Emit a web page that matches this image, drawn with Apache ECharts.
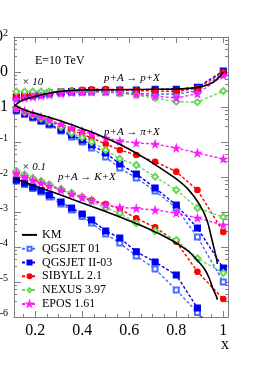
<!DOCTYPE html>
<html><head><meta charset="utf-8">
<script src="https://cdn.jsdelivr.net/npm/echarts@6/dist/echarts.min.js"></script>
<style>html,body{margin:0;padding:0;background:#fff}#c{width:258px;height:366px}</style>
</head><body><div id="c"></div>
<script>
// marker positions (x_F) shared by the model calculations
const modelX = [0.12, 0.155, 0.19, 0.225, 0.26, 0.31, 0.355, 0.40, 0.44, 0.50, 0.56, 0.63, 0.71, 0.80, 0.89, 1.0];

// p+A -> p+X  (x10)
const kmProtonX = [0.11, 0.13, 0.15, 0.18, 0.2, 0.25, 0.3, 0.35, 0.4, 0.5, 0.6, 0.7, 0.8, 0.85, 0.9, 0.93, 0.95, 0.97, 0.99, 1.0];
const kmProtonY = [1.05, 1.35, 1.6, 1.85, 2.0, 2.4, 2.75, 2.95, 3.05, 3.1, 3.15, 3.2, 3.25, 3.4, 3.7, 4.2, 4.8, 6.0, 8.0, 10.0];
const qgs01Proton  = [1.8, 1.93, 2.06, 2.2, 2.35, 2.5, 2.6, 2.65, 2.68, 2.68, 2.6, 2.46, 2.35, 2.35, 2.9, 9.0];
const qgs2Proton   = [1.93, 2.06, 2.2, 2.35, 2.51, 2.68, 2.77, 2.86, 2.96, 3.0, 3.06, 3.06, 3.2, 3.2, 3.66, 10.7];
const sibProton    = [2.0, 2.15, 2.3, 2.45, 2.6, 2.8, 2.95, 3.1, 3.2, 3.25, 3.1, 2.95, 2.85, 2.8, 3.4, 10.0];
const nexProton    = [2.75, 2.75, 2.75, 2.75, 2.75, 2.75, 2.75, 2.73, 2.7, 2.65, 2.46, 2.2, 1.8, 1.42, 1.38, 2.85];
const eposProton   = [1.65, 1.8, 1.95, 2.1, 2.25, 2.45, 2.6, 2.7, 2.73, 2.73, 2.6, 2.3, 2.05, 1.8, 2.4, 8.0];

// p+A -> pi+X
const kmPionX = [0.11, 0.15, 0.2, 0.25, 0.3, 0.35, 0.4, 0.45, 0.5, 0.55, 0.6, 0.65, 0.7, 0.75, 0.8, 0.85, 0.9, 0.93, 0.95, 0.97, 0.975];
const kmPionY = [1.15, 0.85, 0.66, 0.53, 0.42, 0.32, 0.24, 0.18, 0.13, 0.092, 0.062, 0.04, 0.025, 0.015, 0.0088, 0.0045, 0.0016, 6e-4, 1.8e-4, 5e-5, 3.3e-5];
const qgs01Pion = [0.769, 0.61, 0.485, 0.385, 0.306, 0.206, 0.139, 0.1, 0.0674, 0.0373, 0.0181, 0.00937, 0.00398, 0.0013, 1.93e-4, 1e-5];
const qgs2Pion  = [0.821, 0.652, 0.518, 0.411, 0.327, 0.22, 0.158, 0.114, 0.082, 0.0485, 0.0235, 0.0122, 0.00485, 0.00158, 3.49e-4, 2.5e-5];
const sibPion   = [0.877, 0.72, 0.59, 0.485, 0.398, 0.287, 0.22, 0.169, 0.13, 0.0877, 0.059, 0.0425, 0.0274, 0.0142, 0.00425, 2.68e-4];
const nexPion   = [0.936, 0.72, 0.59, 0.469, 0.373, 0.268, 0.181, 0.135, 0.1, 0.059, 0.033, 0.022, 0.0102, 0.00425, 0.0013, 7.2e-4];
const eposPion  = [0.936, 0.769, 0.631, 0.518, 0.425, 0.327, 0.251, 0.206, 0.169, 0.13, 0.107, 0.0937, 0.0877, 0.0674, 0.0485, 0.0327];

// p+A -> K+X  (x0.1)
const kmKaonX = [0.11, 0.2, 0.3, 0.4, 0.5, 0.55, 0.6, 0.65, 0.7, 0.75, 0.8, 0.85, 0.88, 0.9, 0.92, 0.94, 0.955, 0.97, 0.975];
const kmKaonY = [0.0092, 0.0055, 0.0032, 0.0018, 0.00103, 7.7e-4, 5.6e-4, 4.1e-4, 2.9e-4, 2.0e-4, 1.3e-4, 7.7e-5, 4.9e-5, 3.5e-5, 2.35e-5, 1.3e-5, 6.7e-6, 4.0e-6, 3.1e-6];
const qgs01Kaon = [0.00769, 0.0061, 0.00469, 0.00373, 0.00268, 0.00169, 0.00114, 7.44e-4, 4.85e-4, 2.35e-4, 1.3e-4, 5.53e-5, 2.35e-5, 5.9e-6, 1.35e-6, 3e-8];
const qgs2Kaon  = [0.0082, 0.00674, 0.00518, 0.00411, 0.00306, 0.00193, 0.0013, 8.77e-4, 5.9e-4, 2.86e-4, 1.81e-4, 7.34e-5, 3.73e-5, 1.58e-5, 1.81e-6, 5e-8];
const sibKaon   = [0.013, 0.01069, 0.00877, 0.0072, 0.0059, 0.0044, 0.00338, 0.00268, 0.0022, 0.00169, 0.00122, 6.61e-4, 3.66e-4, 1.42e-4, 1.97e-5, 3.27e-6];
const nexKaon   = [0.01484, 0.01179, 0.00937, 0.00769, 0.0061, 0.00454, 0.00349, 0.00268, 0.00206, 0.0013, 9.18e-4, 4.75e-4, 2.86e-4, 1.58e-4, 4.75e-5, 1.81e-5];
const eposKaon  = [0.013, 0.01033, 0.0082, 0.00674, 0.00553, 0.00425, 0.00327, 0.0026, 0.00213, 0.00158, 0.00135, 0.00127, 0.00114, 9.37e-4, 6.74e-4, 4.25e-4];

const legendNames = ['KM', 'QGSJET 01', 'QGSJET II-03', 'SIBYLL 2.1', 'NEXUS 3.97', 'EPOS 1.61'];
const xTickLabels = ['0.2', '0.4', '0.6', '0.8', '1'];

const SERIF = 'Liberation Serif';
const STAR = 'path://M50,0 L61,35 L98,35 L68,57 L79,91 L50,70 L21,91 L32,57 L2,35 L39,35 Z';
const NOMARK = 'path://M0,0 L1,1';

const models = [
  {name: 'QGSJET 01', color: '#4a6cff', symbol: 'emptyRect', size: 5, sets: [qgs01Proton, qgs01Pion, qgs01Kaon]},
  {name: 'QGSJET II-03', color: '#0000f0', symbol: 'rect', size: 6, sets: [qgs2Proton, qgs2Pion, qgs2Kaon]},
  {name: 'SIBYLL 2.1', color: '#ff0000', symbol: 'circle', size: 5.5, sets: [sibProton, sibPion, sibKaon]},
  {name: 'NEXUS 3.97', color: '#66d855', symbol: 'emptyDiamond', size: 6, sets: [nexProton, nexPion, nexKaon]},
  {name: 'EPOS 1.61', color: '#ff1cff', symbol: STAR, size: 7, sets: [eposProton, eposPion, eposKaon]}
];

const series = [];
[[kmProtonX, kmProtonY], [kmPionX, kmPionY], [kmKaonX, kmKaonY]].forEach(([xa, ya]) => {
  series.push({
    type: 'line', name: 'KM', data: xa.map((x, i) => [x, ya[i]]),
    showSymbol: false, symbol: NOMARK, smooth: 0.4, z: 5,
    lineStyle: {color: '#000', width: 1.6}, itemStyle: {color: '#000'}
  });
});
models.forEach(m => {
  m.sets.forEach(ya => {
    series.push({
      type: 'line', name: m.name, data: modelX.map((x, i) => [x, ya[i]]),
      symbol: m.symbol, symbolSize: m.size, showAllSymbol: true, z: 3,
      lineStyle: {color: m.color, width: 1.4, type: [3, 2]},
      itemStyle: {color: m.color, borderColor: m.color, borderWidth: 1.1}
    });
  });
});

const axisColor = '#808080';
function xFmt(v) {
  const r = Math.round(v * 5) / 5;
  if (Math.abs(v - r) > 1e-6) return '';
  const idx = Math.round(r * 5) - 1;
  return xTickLabels[idx] !== undefined ? xTickLabels[idx] : '';
}
function yFmt(v) {
  const e = Math.round(Math.log10(v));
  if (e === 0) return '{b|1}';
  if (e === 1) return '{b|10}';
  return '{b|10}{s|' + e + '}';
}

const chart = echarts.init(document.getElementById('c'), null, {renderer: 'canvas'});
chart.setOption({
  animation: false,
  backgroundColor: '#fff',
  grid: {left: 14, right: 30, top: 37, bottom: 49, containLabel: false, outerBoundsMode: 'none'},
  xAxis: [{
    type: 'value', min: 0.11, max: 1.02, splitNumber: 5,
    axisLine: {lineStyle: {color: axisColor, width: 1}},
    axisTick: {inside: true, length: 6, lineStyle: {color: axisColor}},
    minorTick: {show: true, splitNumber: 4, length: 3, lineStyle: {color: axisColor}},
    splitLine: {show: false},
    axisLabel: {formatter: xFmt, fontFamily: SERIF, fontSize: 16, color: '#000', margin: 6, showMinLabel: false, showMaxLabel: false}
  }, {
    type: 'value', position: 'top', min: 0.11, max: 1.02, splitNumber: 5,
    axisLine: {lineStyle: {color: axisColor, width: 1}},
    axisTick: {inside: true, length: 6, lineStyle: {color: axisColor}},
    minorTick: {show: true, splitNumber: 4, length: 3, lineStyle: {color: axisColor}},
    splitLine: {show: false}, axisLabel: {show: false}
  }],
  yAxis: [{
    type: 'log', logBase: 10, min: 1e-6, max: 100,
    axisLine: {show: true, lineStyle: {color: axisColor, width: 1}},
    axisTick: {inside: true, length: 7, lineStyle: {color: axisColor}},
    minorTick: {show: true, splitNumber: 5, length: 3, lineStyle: {color: axisColor}},
    splitLine: {show: false},
    axisLabel: {
      formatter: yFmt, margin: 6, color: '#000',
      rich: {
        b: {fontFamily: SERIF, fontSize: 16, color: '#000'},
        s: {fontFamily: SERIF, fontSize: 10, color: '#000', padding: [0, 0, 8, 0]}
      }
    }
  }, {
    type: 'log', logBase: 10, min: 1e-6, max: 100, position: 'right',
    axisLine: {show: true, lineStyle: {color: axisColor, width: 1}},
    axisTick: {inside: true, length: 7, lineStyle: {color: axisColor}},
    minorTick: {show: true, splitNumber: 5, length: 3, lineStyle: {color: axisColor}},
    splitLine: {show: false}, axisLabel: {show: false}
  }],
  legend: {
    data: legendNames, orient: 'vertical', left: 21, top: 228,
    itemWidth: 15, itemHeight: 5, itemGap: 0, padding: 0,
    textStyle: {fontFamily: SERIF, fontSize: 12, lineHeight: 13.8, color: '#000'}
  },
  graphic: [
    {type: 'text', left: 35, top: 55, style: {text: 'E=10 TeV', font: '12px "Liberation Serif"', fill: '#000'}},
    {type: 'text', left: 22, top: 77, style: {text: '× 10', font: 'italic 11px "Liberation Serif"', fill: '#000'}},
    {type: 'text', left: 104, top: 73, style: {text: 'p+A → p+X', font: 'italic 11px "Liberation Serif"', fill: '#000'}},
    {type: 'text', left: 104, top: 127, style: {text: 'p+A → π+X', font: 'italic 11px "Liberation Serif"', fill: '#000'}},
    {type: 'text', left: 22, top: 162, style: {text: '× 0.1', font: 'italic 11px "Liberation Serif"', fill: '#000'}},
    {type: 'text', left: 58, top: 172, style: {text: 'p+A → K+X', font: 'italic 11px "Liberation Serif"', fill: '#000'}},
    {type: 'text', left: 221, top: 337, style: {text: 'x', font: '16px "Liberation Serif"', fill: '#000'}}
  ],
  series: series
});
</script></body></html>
